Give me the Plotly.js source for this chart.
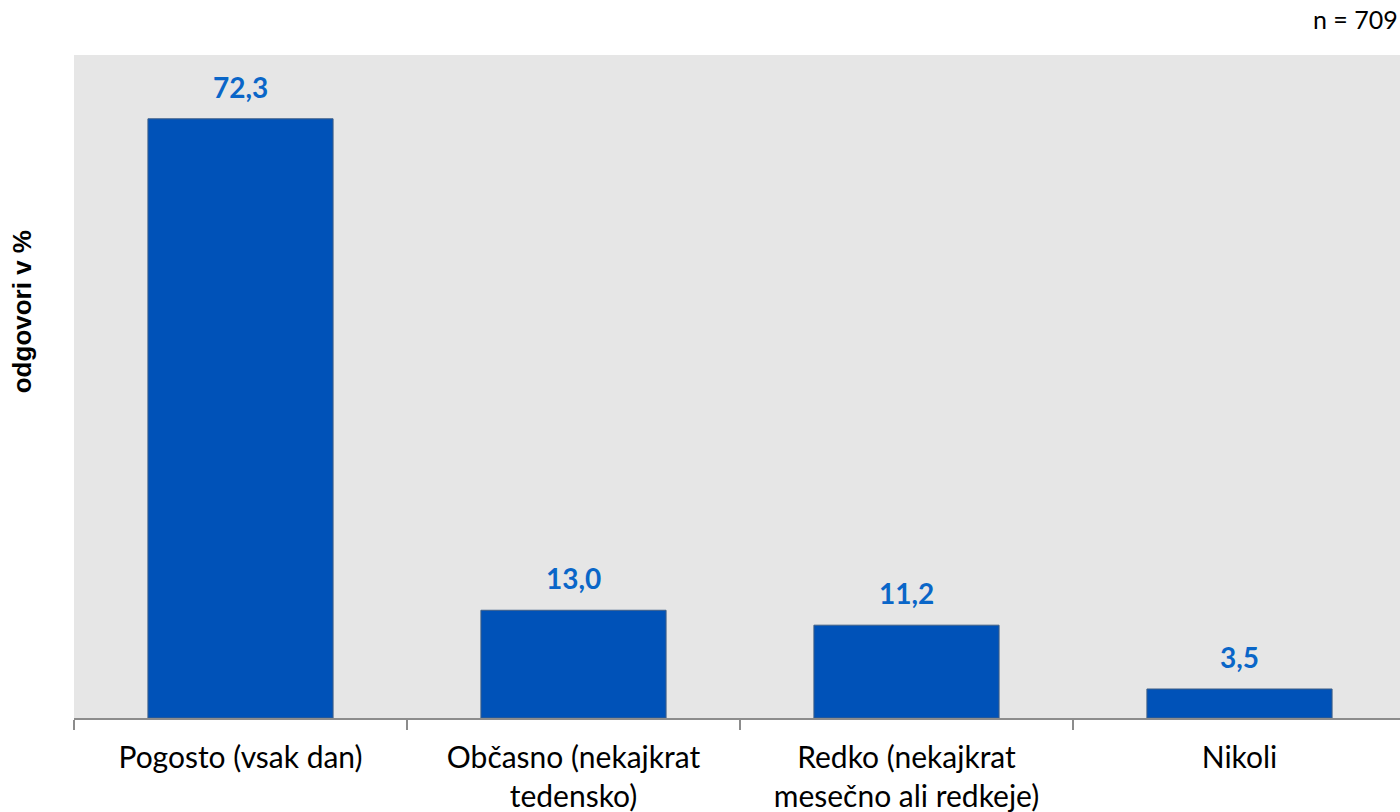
<!DOCTYPE html>
<html>
<head>
<meta charset="utf-8">
<script src="https://cdn.plot.ly/plotly-3.0.1.min.js"></script>
<style>html,body{margin:0;padding:0;background:#fff;}#chart{width:1400px;height:812px;}</style>
</head>
<body>
<div id="chart"></div>
<script>
const categories = ["Pogosto (vsak dan)", "Občasno (nekajkrat<br>tedensko)", "Redko (nekajkrat<br>mesečno ali redkeje)", "Nikoli"];
const values = [72.3, 13.0, 11.2, 3.5];
const sampleNote = "n = 709";
const yTitle = "odgovori v %";

const labelFont = "Lato, 'Open Sans', sans-serif";

const trace = {
  type: "bar",
  x: categories,
  y: values,
  width: 0.556,
  marker: {color: "#0052b8", line: {color: "#3f5f86", width: 1}},
  hoverinfo: "skip"
};

const annotations = values.map((v, i) => ({
  x: categories[i], y: v, xref: "x", yref: "y",
  text: v.toFixed(1).replace(".", ","),
  showarrow: false, yanchor: "bottom", yshift: 13,
  font: {family: labelFont, size: 28, color: "#0a66c8", weight: "bold"}
}));
annotations.push({
  x: 1, y: 1, xref: "paper", yref: "paper", xanchor: "right", yanchor: "middle",
  yshift: 36, text: sampleNote, showarrow: false,
  font: {family: labelFont, size: 25, color: "#000"}
});
annotations.push({
  x: -0.0392, y: 0.612, xref: "paper", yref: "paper", xanchor: "center", yanchor: "middle",
  text: yTitle, textangle: -90, showarrow: false,
  font: {family: "'Liberation Sans', 'DejaVu Sans', sans-serif", size: 26, color: "#000", weight: "bold"}
});

const layout = {
  width: 1400, height: 812,
  margin: {l: 74, r: 0, t: 55, b: 94},
  paper_bgcolor: "#ffffff",
  plot_bgcolor: "#e6e6e6",
  separators: ",.",
  showlegend: false,
  xaxis: {
    type: "category",
    range: [-0.5, 3.482],
    tickson: "boundaries",
    ticks: "outside", ticklen: 10, tickcolor: "#8c8c8c", tickwidth: 1.5,
    showline: true, linecolor: "#8c8c8c", linewidth: 1.5,
    showgrid: false,
    tickfont: {family: labelFont, size: 30, color: "#000"},
    ticklabelstandoff: 12
  },
  yaxis: {
    range: [0, 80],
    visible: false, showgrid: false, zeroline: false, fixedrange: true
  },
  annotations: annotations
};

Plotly.newPlot("chart", [trace], layout, {displayModeBar: false, staticPlot: true});
</script>
</body>
</html>
